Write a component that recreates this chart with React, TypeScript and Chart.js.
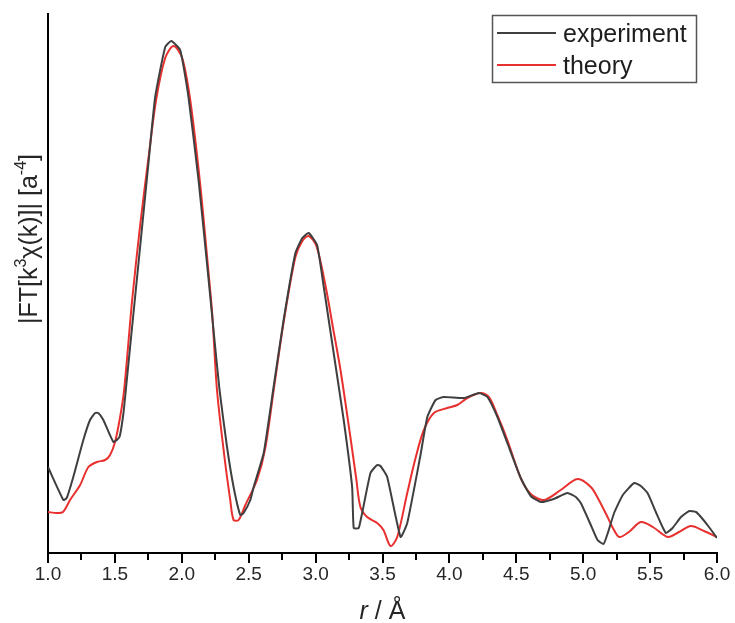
import { useEffect, useRef } from "react";
import { Chart, registerables } from "chart.js";

Chart.register(...registerables);

// Fourier-transform magnitude, measured spectrum: distance r (Å) and |FT| (arb. units)
const expR = [
  1.0, 1.115, 1.14, 1.189, 1.264, 1.314, 1.352, 1.376, 1.414, 1.489, 1.534, 1.564, 1.589,
  1.651, 1.701, 1.751, 1.801, 1.876, 1.921, 1.988, 2.05, 2.125, 2.188, 2.237, 2.282, 2.338,
  2.387, 2.437, 2.462, 2.512, 2.537, 2.612, 2.686, 2.761, 2.849, 2.901, 2.948, 3.011, 3.061,
  3.135, 3.21, 3.273, 3.285, 3.323, 3.41, 3.46, 3.485, 3.535, 3.635, 3.685, 3.784, 3.835,
  3.897, 3.959, 4.109, 4.221, 4.284, 4.359, 4.433, 4.533, 4.608, 4.683, 4.78, 4.882, 4.945,
  4.982, 5.057, 5.107, 5.152, 5.184, 5.231, 5.296, 5.381, 5.431, 5.481, 5.543, 5.618, 5.668,
  5.731, 5.793, 5.843, 5.88, 5.94, 6.0,
];
const expV = [
  0.86, 0.53, 0.55, 0.76, 1.13, 1.33, 1.4, 1.4, 1.33, 1.11, 1.16, 1.4, 1.73,
  2.56, 3.23, 3.9, 4.56, 5.06, 5.12, 5.03, 4.56, 3.73, 2.9, 2.23, 1.63, 1.06,
  0.66, 0.38, 0.4, 0.53, 0.66, 1.0, 1.66, 2.33, 3.0, 3.15, 3.2, 3.08, 2.66,
  2.0, 1.33, 0.66, 0.25, 0.25, 0.8, 0.88, 0.87, 0.76, 0.16, 0.3, 0.98, 1.36,
  1.53, 1.56, 1.55, 1.6, 1.56, 1.36, 1.1, 0.75, 0.57, 0.51, 0.54, 0.6, 0.56,
  0.5, 0.28, 0.13, 0.09, 0.2, 0.4, 0.58, 0.7, 0.67, 0.6, 0.41, 0.2, 0.25,
  0.36, 0.42, 0.41, 0.36, 0.26, 0.15,
];

// Fitted model curve
const theoR = [
  1.0, 1.065, 1.112, 1.165, 1.24, 1.302, 1.365, 1.427, 1.464, 1.501, 1.539, 1.569, 1.629,
  1.689, 1.749, 1.808, 1.876, 1.938, 2.003, 2.063, 2.138, 2.198, 2.228, 2.263, 2.317, 2.362,
  2.387, 2.425, 2.475, 2.562, 2.624, 2.692, 2.766, 2.849, 2.901, 2.948, 3.006, 3.073, 3.133,
  3.186, 3.26, 3.305, 3.335, 3.385, 3.46, 3.507, 3.56, 3.61, 3.685, 3.747, 3.809, 3.884,
  3.984, 4.059, 4.134, 4.234, 4.296, 4.361, 4.433, 4.533, 4.608, 4.707, 4.832, 4.957, 5.057,
  5.117, 5.182, 5.222, 5.269, 5.341, 5.431, 5.521, 5.631, 5.716, 5.805, 5.903, 6.0,
];
const theoV = [
  0.41, 0.4, 0.41, 0.53, 0.68, 0.86, 0.91, 0.93, 0.98, 1.11, 1.36, 1.63, 2.53,
  3.28, 3.93, 4.53, 4.95, 5.07, 4.95, 4.53, 3.68, 2.83, 2.38, 1.63, 0.98, 0.53,
  0.33, 0.33, 0.48, 0.73, 1.05, 1.68, 2.35, 2.96, 3.12, 3.17, 3.07, 2.68, 2.23,
  1.83, 1.16, 0.73, 0.46, 0.36, 0.3, 0.23, 0.07, 0.16, 0.6, 0.95, 1.23, 1.4,
  1.45, 1.48, 1.55, 1.6, 1.56, 1.37, 1.13, 0.75, 0.59, 0.53, 0.63, 0.74, 0.66,
  0.53, 0.36, 0.25, 0.16, 0.21, 0.31, 0.26, 0.16, 0.21, 0.27, 0.22, 0.16,
];

const seriesNames = ["experiment", "theory"];
const seriesColors = ["#3f3f3f", "#e8312f"];

const X_MIN = 1;
const X_MAX = 6;
const X_STEP = 0.5;
const Y_MIN = 0;
const Y_MAX = 5.39;

const FONT = '"Liberation Sans", Arial, Helvetica, sans-serif';

type Run = { text: string; sup?: boolean; italic?: boolean };

const yTitleRuns: Run[] = [
  { text: "|FT[k" },
  { text: "3", sup: true },
  { text: "\u03c7(k)]| [a" },
  { text: "-4", sup: true },
  { text: "]" },
];
const xTitleRuns: Run[] = [{ text: "r", italic: true }, { text: " / \u00c5" }];

function runFont(r: Run, size: number) {
  const s = r.sup ? Math.round(size * 0.62) : size;
  return `${r.italic ? "italic " : ""}${s}px ${FONT}`;
}

function drawRuns(ctx: CanvasRenderingContext2D, runs: Run[], size: number, cx: number) {
  let total = 0;
  for (const r of runs) {
    ctx.font = runFont(r, size);
    total += ctx.measureText(r.text).width;
  }
  let x = cx - total / 2;
  for (const r of runs) {
    ctx.font = runFont(r, size);
    ctx.fillText(r.text, x, r.sup ? -size * 0.45 : 0);
    x += ctx.measureText(r.text).width;
  }
}

const decorations = {
  id: "decorations",
  afterDraw(chart: Chart) {
    const ctx = chart.ctx;
    const xs = chart.scales.x;
    const area = chart.chartArea;
    ctx.save();

    // minor ticks between the labelled ones
    ctx.strokeStyle = "#000";
    ctx.lineWidth = 2;
    for (let v = X_MIN + X_STEP / 2; v < X_MAX; v += X_STEP) {
      const px = Math.round(xs.getPixelForValue(v));
      ctx.beginPath();
      ctx.moveTo(px, area.bottom);
      ctx.lineTo(px, area.bottom + 7);
      ctx.stroke();
    }

    // axis titles
    ctx.fillStyle = "#262626";
    ctx.textBaseline = "alphabetic";
    ctx.textAlign = "left";
    ctx.save();
    ctx.translate(0, 619);
    drawRuns(ctx, xTitleRuns, 25, (area.left + area.right) / 2);
    ctx.restore();

    ctx.save();
    ctx.translate(37, 239);
    ctx.rotate(-Math.PI / 2);
    drawRuns(ctx, yTitleRuns, 25, 0);
    ctx.restore();

    // legend box
    const bx = 492.5, by = 15.5, bw = 204, bh = 67;
    ctx.fillStyle = "#fff";
    ctx.fillRect(bx, by, bw, bh);
    ctx.strokeStyle = "#555";
    ctx.lineWidth = 1.5;
    ctx.strokeRect(bx, by, bw, bh);
    const rowY = [33, 65];
    seriesNames.forEach((name, i) => {
      ctx.strokeStyle = seriesColors[i];
      ctx.lineWidth = 2;
      ctx.beginPath();
      ctx.moveTo(497, rowY[i]);
      ctx.lineTo(556, rowY[i]);
      ctx.stroke();
      ctx.fillStyle = "#1e1e1e";
      ctx.font = `25px ${FONT}`;
      ctx.textBaseline = "alphabetic";
      ctx.fillText(name, 563, rowY[i] + 9);
    });
    ctx.restore();
  },
};

export default function App() {
  const ref = useRef<HTMLCanvasElement | null>(null);

  useEffect(() => {
    if (!ref.current) return;
    const toPoints = (rs: number[], vs: number[]) => rs.map((r, i) => ({ x: r, y: vs[i] }));
    const chart = new Chart(ref.current, {
      type: "line",
      data: {
        datasets: [
          {
            label: seriesNames[0],
            data: toPoints(expR, expV),
            borderColor: seriesColors[0],
            borderWidth: 2,
            pointRadius: 0,
            tension: 0.15,
          },
          {
            label: seriesNames[1],
            data: toPoints(theoR, theoV),
            borderColor: seriesColors[1],
            borderWidth: 2,
            pointRadius: 0,
            tension: 0.3,
          },
        ],
      },
      options: {
        responsive: false,
        animation: false,
        parsing: false,
        layout: { padding: { top: 14, right: 18, left: 0, bottom: 0 } },
        plugins: { legend: { display: false }, tooltip: { enabled: false }, title: { display: false } },
        scales: {
          x: {
            type: "linear",
            min: X_MIN,
            max: X_MAX,
            afterFit(scale: any) {
              scale.height = 70;
              scale.paddingLeft = 0;
              scale.paddingRight = 0;
            },
            ticks: {
              stepSize: X_STEP,
              padding: 0,
              color: "#262626",
              font: { family: FONT, size: 19 },
              maxRotation: 0,
              callback: (v: any) => Number(v).toFixed(1),
            },
            grid: {
              display: true,
              drawOnChartArea: false,
              drawTicks: true,
              tickLength: 10,
              color: "#000",
              lineWidth: 2,
            },
            border: { display: true, color: "#000", width: 2 },
          },
          y: {
            type: "linear",
            min: Y_MIN,
            max: Y_MAX,
            afterFit(scale: any) {
              scale.width = 48;
            },
            ticks: { display: false },
            grid: { display: false },
            border: { display: true, color: "#000", width: 2 },
          },
        },
      },
      plugins: [decorations],
    } as any);
    return () => chart.destroy();
  }, []);

  return (
    <div style={{ position: "absolute", left: 0, top: 0, width: 735, height: 623, background: "#fff" }}>
      <canvas ref={ref} width={735} height={623} style={{ display: "block" }} />
    </div>
  );
}
